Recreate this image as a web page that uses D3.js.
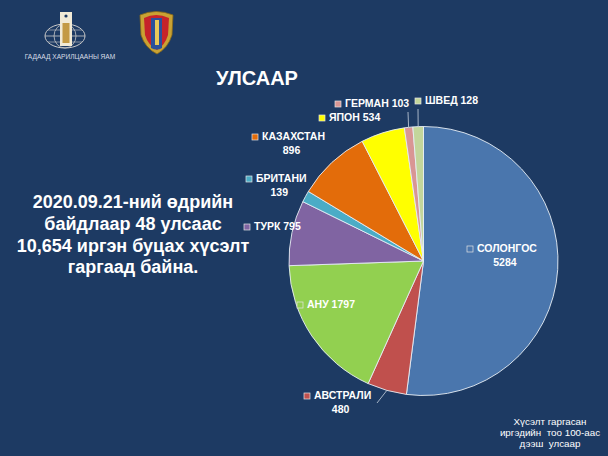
<!DOCTYPE html>
<html><head><meta charset="utf-8">
<script src="https://cdn.jsdelivr.net/npm/d3@7"></script>
<style>html,body{margin:0;padding:0;background:#1d3a63;}svg{display:block;}</style>
</head><body>
<script>
const countries = ["СОЛОНГОС","АВСТРАЛИ","АНУ","ТУРК","БРИТАНИ","КАЗАХСТАН","ЯПОН","ГЕРМАН","ШВЕД"];
const values = [5284,480,1797,795,139,896,534,103,128];
const colors = ["#4a76ad","#c0504d","#92d050","#8064a2","#4bacc6","#e36c0a","#ffff00","#d99694","#c3d69b"];
const titleText = "УЛСААР";
const leftText = ["2020.09.21-ний өдрийн","байдлаар 48 улсаас","10,654 иргэн буцах хүсэлт","гаргаад байна."];
const noteText = ["Хүсэлт гаргасан","иргэдийн  тоо 100-аас","дээш  улсаар"];
// label layout: [x, y, twoLines]
const labelPos = [[470,252,true],[307,399,true],[300,308,false],[247,230,false],[249,182,true],[255,140,true],[322,121,false],[338,107,false],[418,104,false]];

const W=608,H=456;
const FONT="Liberation Sans, Arial, sans-serif";
const svg=d3.select("body").append("svg").attr("width",W).attr("height",H);
svg.append("rect").attr("width",W).attr("height",H).attr("fill","#1d3a63");

// logos
const g1=svg.append("g");
g1.append("ellipse").attr("cx",65).attr("cy",36).attr("rx",20).attr("ry",12).attr("fill","none").attr("stroke","#c9c9c9").attr("stroke-width",1);
g1.append("ellipse").attr("cx",65).attr("cy",36).attr("rx",11).attr("ry",12).attr("fill","none").attr("stroke","#c9c9c9").attr("stroke-width",0.8);
g1.append("line").attr("x1",45).attr("x2",85).attr("y1",36).attr("y2",36).attr("stroke","#c9c9c9").attr("stroke-width",0.8);
g1.append("line").attr("x1",48).attr("x2",82).attr("y1",30).attr("y2",30).attr("stroke","#c9c9c9").attr("stroke-width",0.6);
g1.append("line").attr("x1",48).attr("x2",82).attr("y1",42).attr("y2",42).attr("stroke","#c9c9c9").attr("stroke-width",0.6);
g1.append("rect").attr("x",60).attr("y",12).attr("width",12).attr("height",34).attr("fill","#f1ead6");
g1.append("circle").attr("cx",66).attr("cy",16).attr("r",1.6).attr("fill","#1d3a63");
g1.append("rect").attr("x",62.5).attr("y",23).attr("width",7).attr("height",20).attr("fill","#c39a45");
g1.append("text").attr("x",70).attr("y",59).attr("text-anchor","middle").attr("fill","#d8dde6").attr("font-family",FONT).attr("font-size",6.6).text("ГАДААД ХАРИЛЦААНЫ ЯАМ");

const g2=svg.append("g");
g2.append("path").attr("d","M140,15 Q156,8 173,15 L172,35 Q168,48 157,54 Q145,48 141,35 Z").attr("fill","#c9a233").attr("stroke","#8a6a16").attr("stroke-width",0.8);
g2.append("path").attr("d","M144,18 Q156,12 169,18 L168,35 Q165,45 157,50 Q148,45 145,35 Z").attr("fill","#c6232a");
g2.append("path").attr("d","M151,18 L162,18 L162,48 Q157,51 151,48 Z").attr("fill","#2b4f9c");
g2.append("rect").attr("x",155).attr("y",20).attr("width",4).attr("height",25).attr("fill","#e9c75a");

// title
svg.append("text").attr("x",257).attr("y",85).attr("text-anchor","middle").attr("fill","#fff").attr("font-family",FONT).attr("font-weight","bold").attr("font-size",20).text(titleText);

// left text
svg.append("g").selectAll("text").data(leftText).join("text")
 .attr("x",133).attr("y",(d,i)=>208+i*21.8).attr("text-anchor","middle").attr("fill","#fff")
 .attr("font-family",FONT).attr("font-weight","bold").attr("font-size",18).text(d=>d);

// note
svg.append("g").selectAll("text").data(noteText).join("text")
 .attr("x",550).attr("y",(d,i)=>425+i*11).attr("text-anchor","middle").attr("fill","#fff")
 .style("white-space","pre")
 .attr("font-family",FONT).attr("font-size",9.8).text(d=>d);

// pie
const cx=423.5,cy=261,R=134.5;
const data=countries.map((c,i)=>({name:c,value:values[i],color:colors[i],pos:labelPos[i]}));
const pie=d3.pie().value(d=>d.value).sort(null).startAngle(0).endAngle(2*Math.PI);
const arc=d3.arc().innerRadius(0).outerRadius(R);
const arcs=pie(data);
const pg=svg.append("g").attr("transform",`translate(${cx},${cy})`);
pg.selectAll("path").data(arcs).join("path").attr("d",arc).attr("fill",d=>d.data.color).attr("stroke","#e8eef5").attr("stroke-width",0.9);

// leader lines for small outer labels
const leaderIdx=[1,7,8];
leaderIdx.forEach(i=>{
  const a=arcs[i]; const m=(a.startAngle+a.endAngle)/2;
  const px=cx+R*Math.sin(m), py=cy-R*Math.cos(m);
  const p=a.data.pos;
  let lx, ly;
  if(i===1){lx=p[0]+70; ly=p[1]+4;}
  else if(i===7){lx=p[0]+70; ly=p[1]+5;}
  else {lx=p[0]; ly=p[1]+5;}
  svg.append("line").attr("x1",lx).attr("y1",ly).attr("x2",px).attr("y2",py).attr("stroke","#c9d3df").attr("stroke-width",0.8);
});

// labels
const lg=svg.append("g").attr("font-family",FONT).attr("font-weight","bold").attr("font-size",10.5).attr("fill","#fff");
data.forEach(d=>{
  const [x,y,two]=d.pos;
  lg.append("rect").attr("x",x-3).attr("y",y-6).attr("width",6).attr("height",6).attr("fill",d.color).attr("stroke","#e6e6e6").attr("stroke-width",0.7);
  if(two){
    const t=lg.append("text").attr("x",x+7).attr("y",y).text(d.name);
    const w=t.node().getComputedTextLength();
    lg.append("text").attr("x",x+ (w+10)/2 ).attr("y",y+14).attr("text-anchor","middle").text(d.value);
  } else {
    lg.append("text").attr("x",x+7).attr("y",y).text(d.name+" "+d.value);
  }
});
</script>
</body></html>
